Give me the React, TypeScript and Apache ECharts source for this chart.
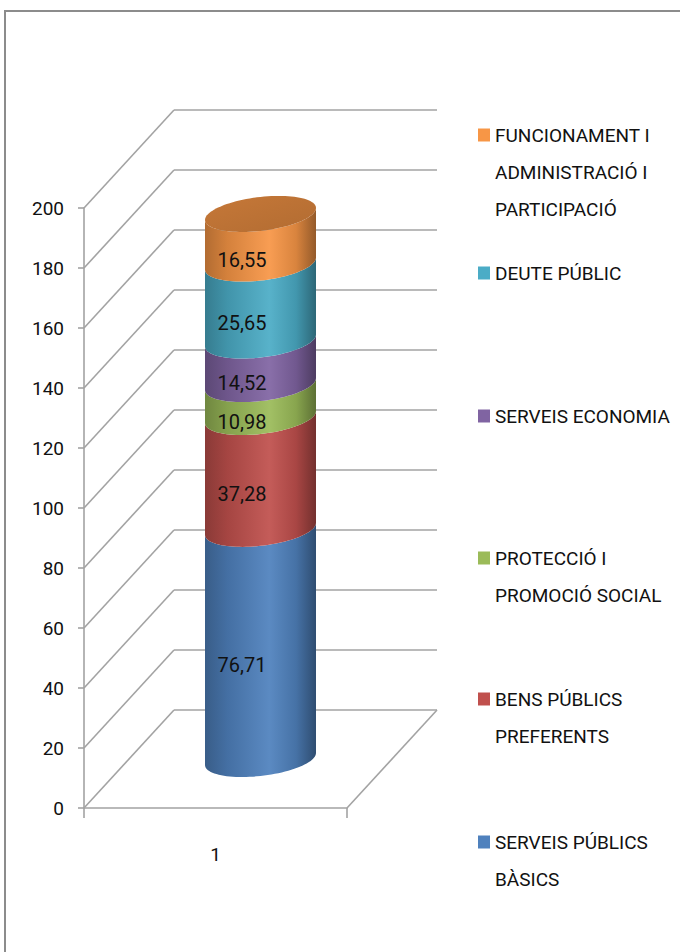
import React, { useEffect, useRef } from 'react';
import * as echarts from 'echarts';

// ---------- data ----------
const categories = ['1'];
const seriesNames = [
  'SERVEIS PÚBLICS BÀSICS',
  'BENS PÚBLICS PREFERENTS',
  'PROTECCIÓ I PROMOCIÓ SOCIAL',
  'SERVEIS ECONOMIA',
  'DEUTE PÚBLIC',
  'FUNCIONAMENT I ADMINISTRACIÓ I PARTICIPACIÓ',
];
const legendLabels = [
  'SERVEIS PÚBLICS\nBÀSICS',
  'BENS PÚBLICS\nPREFERENTS',
  'PROTECCIÓ I\nPROMOCIÓ SOCIAL',
  'SERVEIS ECONOMIA',
  'DEUTE PÚBLIC',
  'FUNCIONAMENT I\nADMINISTRACIÓ I\nPARTICIPACIÓ',
];
const seriesValues = [76.71, 37.28, 10.98, 14.52, 25.65, 16.55];
const seriesColors = ['#4F81BD', '#C0504D', '#9BBB59', '#8064A2', '#4BACC6', '#F79646'];
const yTickValues = [0, 20, 40, 60, 80, 100, 120, 140, 160, 180, 200];

// ---------- layout / style ----------
const FONT = "Roboto, 'Liberation Sans', sans-serif";
const GRID = { left: 84, top: 208, width: 263, height: 600 };
const DX = 90; // depth offset of back wall
const DY = -98;
const LINE_COLOR = '#a3a3a3';
const LEGEND_ICON_Y = [842, 699, 558, 416, 273, 135];
const LEGEND_LINE_H = 37;

function shade(hex: string, f: number): string {
  const n = parseInt(hex.slice(1), 16);
  const ch = [(n >> 16) & 255, (n >> 8) & 255, n & 255].map((x) => {
    const v = f > 1 ? x + (255 - x) * (f - 1) : x * f;
    return Math.max(0, Math.min(255, Math.round(v)));
  });
  return `rgb(${ch[0]},${ch[1]},${ch[2]})`;
}

function fmt(v: number): string {
  return v.toFixed(2).replace('.', ',');
}

export default function App() {
  const ref = useRef<HTMLDivElement>(null);

  useEffect(() => {
    if (!ref.current) return;
    const chart = echarts.init(ref.current, undefined, { renderer: 'svg' });

    // cumulative stacking from data
    const starts: number[] = [];
    let acc = 0;
    seriesValues.forEach((v) => {
      starts.push(acc);
      acc += v;
    });
    const lastIdx = seriesValues.length - 1;

    const cylinderSeries = seriesValues.map((v, i) => ({
      type: 'custom',
      name: seriesNames[i],
      xAxisIndex: 0,
      yAxisIndex: 0,
      z: 5,
      silent: true,
      itemStyle: { color: seriesColors[i] },
      encode: { x: 0, y: [1, 2] },
      data: [[0, starts[i], starts[i] + v, v]],
      renderItem: (params: any, api: any) => {
        const start = api.value(1);
        const end = api.value(2);
        const val = api.value(3);
        const base = api.coord([0, 0]);
        const band = api.size([1, 0])[0];
        const cx = base[0] + DX / 2;
        const rx = band * 0.211;
        const ry = 17;
        const skew = -6;
        const yB = api.coord([0, start])[1] + DY / 2;
        const yT = api.coord([0, end])[1] + DY / 2;
        const P = (t: number, cy: number) => [
          cx + rx * Math.cos(t),
          cy + ry * Math.sin(t) + skew * Math.cos(t),
        ];
        const N = 48;
        const pts: number[][] = [];
        for (let k = 0; k <= N; k++) pts.push(P(Math.PI - (Math.PI * k) / N, yB));
        for (let k = 0; k <= N; k++) pts.push(P((Math.PI * k) / N, yT));
        const c = seriesColors[i];
        const children: any[] = [
          {
            type: 'polygon',
            shape: { points: pts },
            style: {
              fill: new echarts.graphic.LinearGradient(0, 0, 1, 0, [
                { offset: 0, color: shade(c, 0.72) },
                { offset: 0.2, color: shade(c, 0.86) },
                { offset: 0.58, color: shade(c, 1.07) },
                { offset: 0.82, color: shade(c, 0.88) },
                { offset: 1, color: shade(c, 0.6) },
              ]),
              stroke: null,
            },
          },
        ];
        if (i === lastIdx) {
          const cap: number[][] = [];
          for (let k = 0; k < 2 * N; k++) cap.push(P((Math.PI * k) / N, yT));
          children.push({
            type: 'polygon',
            shape: { points: cap },
            style: {
              fill: new echarts.graphic.LinearGradient(0, 0, 1, 1, [
                { offset: 0, color: shade(c, 0.8) },
                { offset: 1, color: shade(c, 0.72) },
              ]),
              stroke: null,
            },
          });
        }
        const tStar = Math.atan2(ry, skew);
        const frontDy = Math.sqrt(ry * ry + skew * skew);
        children.push({
          type: 'text',
          style: {
            text: fmt(val),
            x: cx + rx * Math.cos(tStar),
            y: (yB + yT) / 2 + frontDy + 3,
            align: 'center',
            verticalAlign: 'middle',
            fontSize: 20,
            fontFamily: FONT,
            fill: '#111111',
          },
        });
        return { type: 'group', children };
      },
    }));

    const wallSeries = {
      type: 'custom',
      name: 'wall',
      xAxisIndex: 0,
      yAxisIndex: 0,
      z: 1,
      silent: true,
      data: yTickValues.map((v) => [0, v]),
      encode: { x: 0, y: 1 },
      renderItem: (params: any, api: any) => {
        const cs = params.coordSys;
        const p = api.coord([0, api.value(1)]);
        return {
          type: 'line',
          shape: { x1: cs.x, y1: p[1], x2: cs.x + DX, y2: p[1] + DY },
          style: { stroke: LINE_COLOR, lineWidth: 1.6 },
        };
      },
    };

    const floorSeries = {
      type: 'custom',
      name: 'floor',
      xAxisIndex: 0,
      yAxisIndex: 0,
      z: 1,
      silent: true,
      data: [[0, yTickValues[0]]],
      encode: { x: 0, y: 1 },
      renderItem: (params: any, api: any) => {
        const cs = params.coordSys;
        const p = api.coord([0, api.value(1)]);
        return {
          type: 'line',
          shape: { x1: cs.x + cs.width, y1: p[1], x2: cs.x + cs.width + DX, y2: p[1] + DY },
          style: { stroke: LINE_COLOR, lineWidth: 1.6 },
        };
      },
    };

    const legends = seriesNames.map((name, i) => {
      const lines = legendLabels[i].split('\n').length;
      return {
        data: [name],
        orient: 'vertical',
        left: 478,
        top: LEGEND_ICON_Y[i] - ((2 * lines - 1) * LEGEND_LINE_H) / 2,
        padding: 0,
        icon: 'rect',
        itemWidth: 12,
        itemHeight: 13,
        itemGap: 0,
        itemTextGap: 6,
        selectedMode: false,
        formatter: () => '\n'.repeat(lines - 1) + legendLabels[i],
        textStyle: {
          fontSize: 19,
          lineHeight: LEGEND_LINE_H,
          fontFamily: FONT,
          color: '#111111',
        },
      };
    });

    const option: any = {
      animation: false,
      backgroundColor: '#ffffff',
      textStyle: { fontFamily: FONT },
      grid: [
        { ...GRID },
        { left: GRID.left + DX, top: GRID.top + DY, width: GRID.width, height: GRID.height },
      ],
      xAxis: [
        {
          gridIndex: 0,
          type: 'category',
          data: categories,
          axisLine: { show: true, lineStyle: { color: LINE_COLOR, width: 1.6 } },
          axisTick: { show: true, length: 10, interval: 0, lineStyle: { color: LINE_COLOR, width: 1.6 } },
          axisLabel: { margin: 37, fontSize: 19, color: '#111111', fontFamily: FONT },
          splitLine: { show: false },
        },
        {
          gridIndex: 1,
          type: 'category',
          data: categories,
          axisLine: { show: false },
          axisTick: { show: false },
          axisLabel: { show: false },
          splitLine: { show: false },
        },
      ],
      yAxis: [
        {
          gridIndex: 0,
          type: 'value',
          min: yTickValues[0],
          max: yTickValues[yTickValues.length - 1],
          interval: 20,
          axisLine: { show: true, lineStyle: { color: LINE_COLOR, width: 1.6 } },
          axisTick: { show: true, length: 6, lineStyle: { color: LINE_COLOR, width: 1.6 } },
          axisLabel: { margin: 20, fontSize: 19, color: '#111111', fontFamily: FONT },
          splitLine: { show: false },
        },
        {
          gridIndex: 1,
          type: 'value',
          min: yTickValues[0],
          max: yTickValues[yTickValues.length - 1],
          interval: 20,
          axisLine: { show: false },
          axisTick: { show: false },
          axisLabel: { show: false },
          splitLine: { show: true, lineStyle: { color: LINE_COLOR, width: 1.6 } },
        },
      ],
      legend: legends,
      graphic: [
        {
          type: 'polyline',
          shape: { points: [[5, 952], [5, 11], [680, 11]] },
          style: { stroke: '#8c8c8c', lineWidth: 2, fill: null },
          silent: true,
        },
      ],
      series: [wallSeries, floorSeries, ...cylinderSeries],
    };

    chart.setOption(option);
    return () => chart.dispose();
  }, []);

  return (
    <div
      ref={ref}
      style={{ position: 'absolute', left: 0, top: 0, width: 680, height: 952 }}
    />
  );
}
